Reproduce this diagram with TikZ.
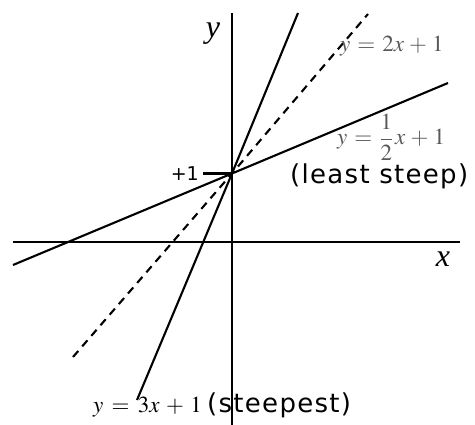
\documentclass[tikz,border=0pt]{standalone}
\usepackage{mathptmx}
\usepackage[no-math]{fontspec}
\setmainfont{Liberation Serif}
\newfontfamily\comicf[LetterSpace=5]{DejaVu Sans}
\newfontfamily\comicn{DejaVu Sans}
\tikzset{
  ln/.style={line width=2.1pt, line cap=butt},
  dsh/.style={line width=2.1pt, dash pattern=on 8pt off 6pt},
  mth/.style={inner sep=0pt, font=\fontsize{23}{26}\selectfont},
  cmc/.style={inner sep=0pt, font=\comicf\fontsize{26}{29}\selectfont},
  axl/.style={inner sep=0pt, font=\fontsize{32}{36}\selectfont},
  tkl/.style={inner sep=0pt, font=\comicn\fontsize{19}{22}\selectfont}
}
\newcommand\gsp{\mskip 1.5mu}
\begin{document}
\begin{tikzpicture}[x=1pt,y=-1pt]
\useasboundingbox (0,0) rectangle (475,425);
\fill[white] (0,0) rectangle (475,425);
% axes
\coordinate (xl) at (13,242); \coordinate (xr) at (460,242);
\coordinate (yt) at (232,13); \coordinate (yb) at (232,425);
\draw[ln] (xl) -- (xr);
\draw[ln] (yt) -- (yb);
% intercept and tick
\coordinate (O) at (232,173.5);
\coordinate (tk) at (203,173.5);
\draw[ln] (tk) -- (O);
% lines
\coordinate (s1) at (298,13); \coordinate (s2) at (137,400);
\coordinate (d1) at (368,14); \coordinate (d2) at (73,357);
\coordinate (l1) at (448,83); \coordinate (l2) at (13,265);
\draw[ln] (s2) -- (O) -- (s1);
\draw[dsh] (d2) -- (O) -- (d1);
\draw[ln] (l2) -- (O) -- (l1);
% labels
\node[axl] (ylab) at (213,34) {\textit{y}};
\node[axl] (xlab) at (443,259) {\textit{x}};
\node[tkl, anchor=base east] (p1) at (199,181) {+1};
\node[mth, text=black!65, anchor=base west] (eq2) at (340,52) {$y\gsp=\gsp 2x\gsp+\gsp 1$};
\node[mth, text=black!65, anchor=base west] (eqh) at (337,145) {$\displaystyle y\gsp=\gsp\frac{1}{2}\gsp x\gsp+\gsp 1$};
\node[cmc, anchor=base west] (lst) at (290,184) {(least steep)};
\node[mth, anchor=base west] (eq3) at (93,413) {$y\mskip 2.5mu=\mskip 2.5mu 3x\mskip 2.5mu+\mskip 2.5mu 1$};
\node[cmc, anchor=base west] (stp) at (207,413) {(steepest)};
\end{tikzpicture}
\end{document}
